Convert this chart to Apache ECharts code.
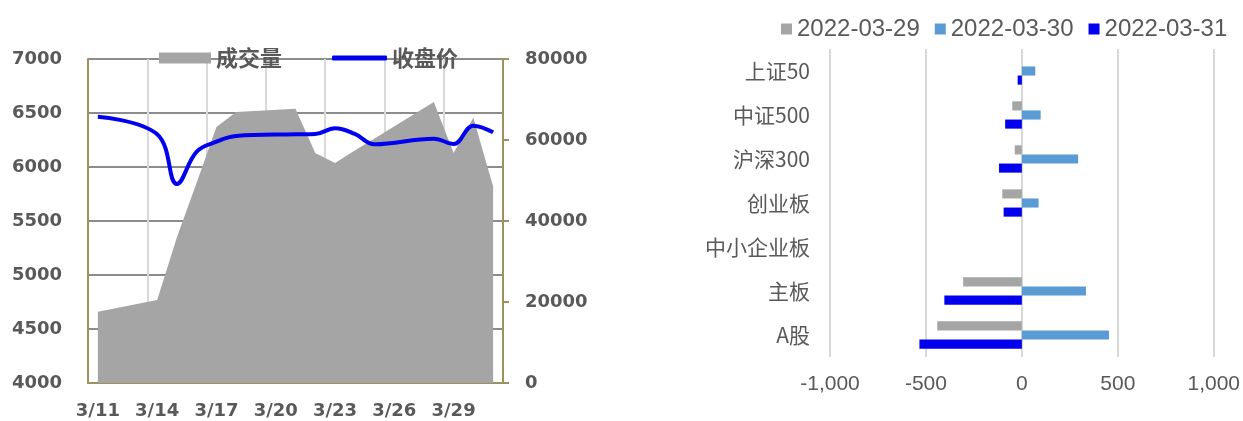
<!DOCTYPE html>
<html><head><meta charset="utf-8">
<script src="https://cdn.jsdelivr.net/npm/echarts@6/dist/echarts.min.js"></script>
<style>html,body{margin:0;padding:0;background:#fff}#c{width:1243px;height:421px}</style>
</head><body><div id="c"></div>
<script>
const days = ['3/11','3/12','3/13','3/14','3/15','3/16','3/17','3/18','3/19','3/20','3/21','3/22','3/23','3/24','3/25','3/26','3/27','3/28','3/29','3/30','3/31'];
const volume = [17600,null,null,20500,36000,49500,63200,66900,null,null,67700,56800,54300,57400,60400,null,null,69400,56800,65500,48500];
const closePrice = [6465,null,null,6303,5843,6142,6234,6287,null,null,6303,6306,6358,6306,6210,null,null,6262,6213,6383,6321];
const leftTicks = {min:4000,max:7000,interval:500};
const rightTicks = {min:0,max:80000,interval:20000};

const boards = ['上证50','中证500','沪深300','创业板','中小企业板','主板','A股'];
const d0329 = [0,-50,-37,-102,null,-306,-441];
const d0330 = [70,98,293,87,null,334,454];
const d0331 = [-22,-87,-119,-95,null,-404,-534];
const barTicks = {min:-1000,max:1000,interval:500};

const txt = '#595959', olive = '#9e9160';
const numFont = 'DejaVu Sans', cjk = 'Noto Sans CJK SC';
const chart = echarts.init(document.getElementById('c'));
chart.setOption({
  animation:false,
  backgroundColor:'#fff',
  legend:[
    {data:['成交量'],left:154,top:42,icon:'rect',itemWidth:52,itemHeight:11,
     textStyle:{color:txt,fontSize:22,fontWeight:'bold',fontFamily:cjk}},
    {data:['收盘价'],left:327,top:42,icon:'roundRect',itemWidth:55,itemHeight:5,
     textStyle:{color:txt,fontSize:22,fontWeight:'bold',fontFamily:cjk}},
    {data:['2022-03-29','2022-03-30','2022-03-31'],left:776,top:12,icon:'rect',itemWidth:11,itemHeight:11,itemGap:15,
     textStyle:{color:txt,fontSize:24,fontFamily:'Liberation Sans'}}
  ],
  grid:[
    {left:88,right:740,top:59,bottom:38},
    {left:830,right:26,top:49,bottom:64}
  ],
  xAxis:[
    {type:'category',gridIndex:0,data:days,boundaryGap:true,
     axisLine:{lineStyle:{color:olive,width:2}},
     axisTick:{interval:2,length:6,lineStyle:{color:olive,width:2}},
     axisLabel:{interval:2,margin:19,color:txt,fontSize:18,fontWeight:'bold',fontFamily:numFont},
     splitLine:{show:true,interval:2,lineStyle:{color:'#d9d9d9',width:2}}},
    {type:'value',gridIndex:1,min:barTicks.min,max:barTicks.max,interval:barTicks.interval,
     axisLine:{show:false},axisTick:{show:false},
     axisLabel:{margin:17,color:txt,fontSize:21,fontFamily:'Liberation Sans',
       formatter:v=>v.toLocaleString('en-US')},
     splitLine:{show:true,lineStyle:{color:'#d9d9d9',width:2}}}
  ],
  yAxis:[
    {type:'value',gridIndex:0,min:leftTicks.min,max:leftTicks.max,interval:leftTicks.interval,
     axisLine:{show:true,lineStyle:{color:olive,width:2}},axisTick:{show:false},
     axisLabel:{margin:26,color:txt,fontSize:18,fontWeight:'bold',fontFamily:numFont,formatter:v=>String(v)},
     splitLine:{show:true,lineStyle:{color:'#8c8c8c',width:2}}},
    {type:'value',gridIndex:0,position:'right',min:rightTicks.min,max:rightTicks.max,interval:rightTicks.interval,
     axisLine:{show:true,lineStyle:{color:olive,width:2}},
     axisTick:{show:true,length:6,lineStyle:{color:olive,width:2}},
     axisLabel:{margin:22,color:txt,fontSize:18,fontWeight:'bold',fontFamily:numFont,formatter:v=>String(v)},
     splitLine:{show:false}},
    {type:'category',gridIndex:1,data:boards,inverse:true,
     axisLine:{show:false,onZero:false},axisTick:{show:false},
     axisLabel:{margin:20,color:txt,fontSize:21,fontFamily:cjk}}
  ],
  series:[
    {name:'成交量',type:'line',xAxisIndex:0,yAxisIndex:1,data:volume,connectNulls:true,
     symbol:'none',lineStyle:{width:0},itemStyle:{color:'#a5a5a5'},
     areaStyle:{color:'#a5a5a5',opacity:1},z:1},
    {name:'收盘价',type:'line',xAxisIndex:0,yAxisIndex:0,data:closePrice,connectNulls:true,
     smooth:0.4,symbol:'none',lineStyle:{width:4,color:'#0000ee'},itemStyle:{color:'#0000ee'},z:3},
    {name:'2022-03-29',type:'bar',xAxisIndex:1,yAxisIndex:2,data:d0329,
     itemStyle:{color:'#a5a5a5'},barGap:'0%',barCategoryGap:'38%'},
    {name:'2022-03-30',type:'bar',xAxisIndex:1,yAxisIndex:2,data:d0330,
     itemStyle:{color:'#5b9bd5'},barGap:'0%',barCategoryGap:'38%'},
    {name:'2022-03-31',type:'bar',xAxisIndex:1,yAxisIndex:2,data:d0331,
     itemStyle:{color:'#0000ee'},barGap:'0%',barCategoryGap:'38%'}
  ]
});
</script></body></html>
